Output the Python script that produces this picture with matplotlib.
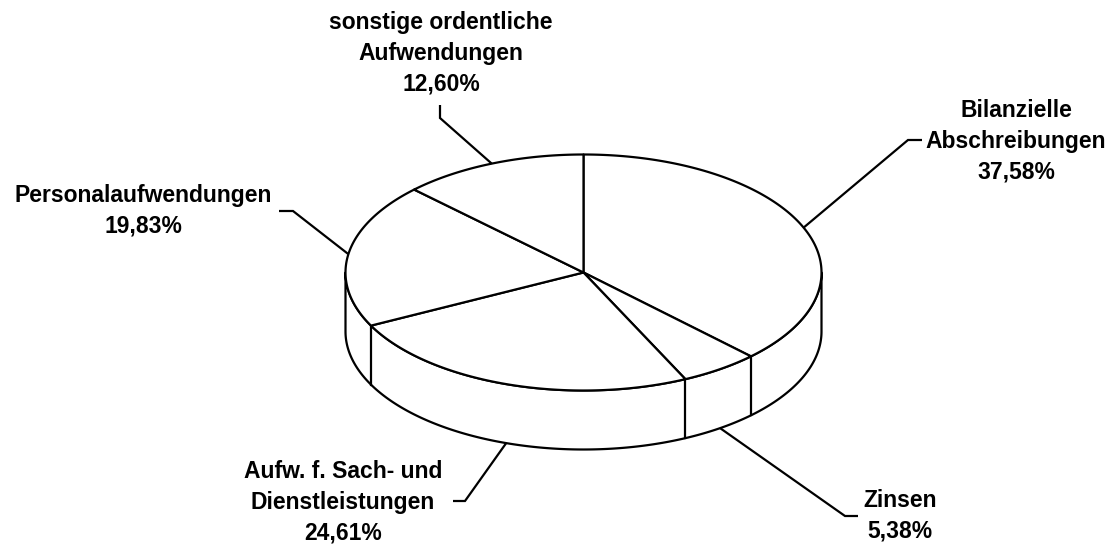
import numpy as np
import matplotlib
matplotlib.use("Agg")
import matplotlib.pyplot as plt
from matplotlib.patches import Polygon

# ---- data ----
categories = ["Bilanzielle\nAbschreibungen", "Zinsen", "Aufw. f. Sach- und\nDienstleistungen",
              "Personalaufwendungen", "sonstige ordentliche\nAufwendungen"]
shares = [37.58, 5.38, 24.61, 19.83, 12.60]

# ---- layout (pixel coordinates, y downwards) ----
W, H = 1113, 544
cx, cy = 583.5, 272.5      # centre of top face
rx, ry = 238, 118          # radii of top face ellipse
depth = 59                 # thickness of the pie
lw = 1.6
# leader line: elbow point, end point; label: centre x, baseline of first line, line pitch
elbows = [(908, 140), (845, 516), (465, 501), (293, 211), (440, 118)]
ends = [(922, 140), (858, 516), (453, 501), (279, 211), (440, 105)]
label_x = [1016, 900, 343, 143, 441]
label_y0 = [117, 507, 478, 202, 29]
pitch = 30.8

plt.rcParams['font.family'] = ['Liberation Sans', 'DejaVu Sans']
fig = plt.figure(figsize=(W / 100, H / 100), dpi=100)
ax = fig.add_axes([0, 0, 1, 1])
ax.set_xlim(0, W)
ax.set_ylim(H, 0)
ax.axis('off')


def pt(phi_deg, dz=0.0):
    p = np.radians(phi_deg)
    return cx + rx * np.sin(p), cy - ry * np.cos(p) + dz


total = sum(shares)
bounds = np.concatenate([[0], np.cumsum(shares) / total * 360.0])

# side wall (front half)
ph = np.linspace(90, 270, 300)
top = np.column_stack(pt(ph))
bot = np.column_stack(pt(ph[::-1], depth))
ax.add_patch(Polygon(np.vstack([top, bot]), closed=True, facecolor='white',
                     edgecolor='black', lw=lw, zorder=1, joinstyle='round'))
for b in bounds[1:-1]:
    if 90 < b < 270:
        x0, y0 = pt(b)
        ax.plot([x0, x0], [y0, y0 + depth], color='black', lw=lw, zorder=2)

# top face wedges
for a0, a1 in zip(bounds[:-1], bounds[1:]):
    ph = np.linspace(a0, a1, max(int(a1 - a0) * 2, 4))
    arc = np.column_stack(pt(ph))
    poly = np.vstack([[cx, cy], arc])
    ax.add_patch(Polygon(poly, closed=True, facecolor='white', edgecolor='black',
                         lw=lw, zorder=3, joinstyle='round'))

# labels with leader lines
for i, (cat, v) in enumerate(zip(categories, shares)):
    mid = (bounds[i] + bounds[i + 1]) / 2
    dz = depth if 90 < mid < 270 else 0.0
    sx, sy = pt(mid, dz)
    ex, ey = elbows[i]
    fx, fy = ends[i]
    ax.plot([sx, ex, fx], [sy, ey, fy], color='black', lw=lw, zorder=4,
            solid_joinstyle='miter', solid_capstyle='butt')
    lines = cat.split("\n") + [f"{v:.2f}".replace('.', ',') + '%']
    for k, line in enumerate(lines):
        ax.text(label_x[i], label_y0[i] + k * pitch, line, ha='center', va='baseline',
                fontsize=16.5, fontweight='bold', color='black')

fig.savefig("out.png", dpi=100)
